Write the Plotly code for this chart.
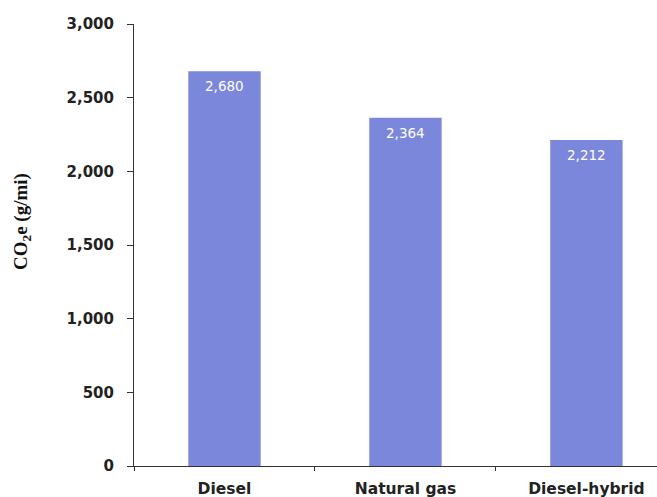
import plotly.graph_objects as go

categories = ["Diesel", "Natural gas", "Diesel-hybrid"]
co2e_g_per_mi = [2680, 2364, 2212]
y_ticks = [0, 500, 1000, 1500, 2000, 2500, 3000]
y_tick_labels = ["0", "500", "1,000", "1,500", "2,000", "2,500", "3,000"]

bar_color = "#7b87db"
axis_color = "#333333"
tick_font = dict(family="DejaVu Sans", size=15, color="#222222", weight="bold")

fig = go.Figure(
    go.Bar(
        x=categories,
        y=co2e_g_per_mi,
        marker=dict(color=bar_color, line=dict(width=0)),
        width=0.4,
        hoverinfo="skip",
    )
)

# value labels just below each bar top
for cat, val in zip(categories, co2e_g_per_mi):
    fig.add_annotation(
        x=cat, y=val, text=f"{val:,}", showarrow=False,
        yanchor="middle", yshift=-15,
        font=dict(family="DejaVu Sans", size=13.5, color="white"),
    )

# rotated axis title
fig.add_annotation(
    xref="paper", yref="paper", x=0, y=0.552,
    text="CO<sub>2</sub>e (g/mi)", textangle=-90, showarrow=False,
    xanchor="center", yanchor="middle", xshift=-112,
    font=dict(family="Liberation Serif", size=19, color="#111111", weight="bold"),
)

fig.update_layout(
    width=657, height=497,
    margin=dict(l=134, r=0, t=24, b=31),
    paper_bgcolor="white", plot_bgcolor="white",
    showlegend=False,
    xaxis=dict(
        range=[-0.5, 2.39],
        showline=True, linecolor=axis_color, linewidth=1,
        ticks="outside", tickson="boundaries", ticklen=4, tickcolor=axis_color,
        tickfont=dict(family="DejaVu Sans", size=15.5, color="#222222", weight="bold"),
        ticklabelstandoff=8,
        showgrid=False, zeroline=False,
    ),
    yaxis=dict(
        range=[0, 3000],
        tickvals=y_ticks, ticktext=y_tick_labels,
        showline=True, linecolor=axis_color, linewidth=1,
        ticks="outside", ticklen=6, tickcolor=axis_color,
        tickfont=tick_font, ticklabelstandoff=10,
        showgrid=False, zeroline=False,
    ),
)

fig.write_html("out.html")
